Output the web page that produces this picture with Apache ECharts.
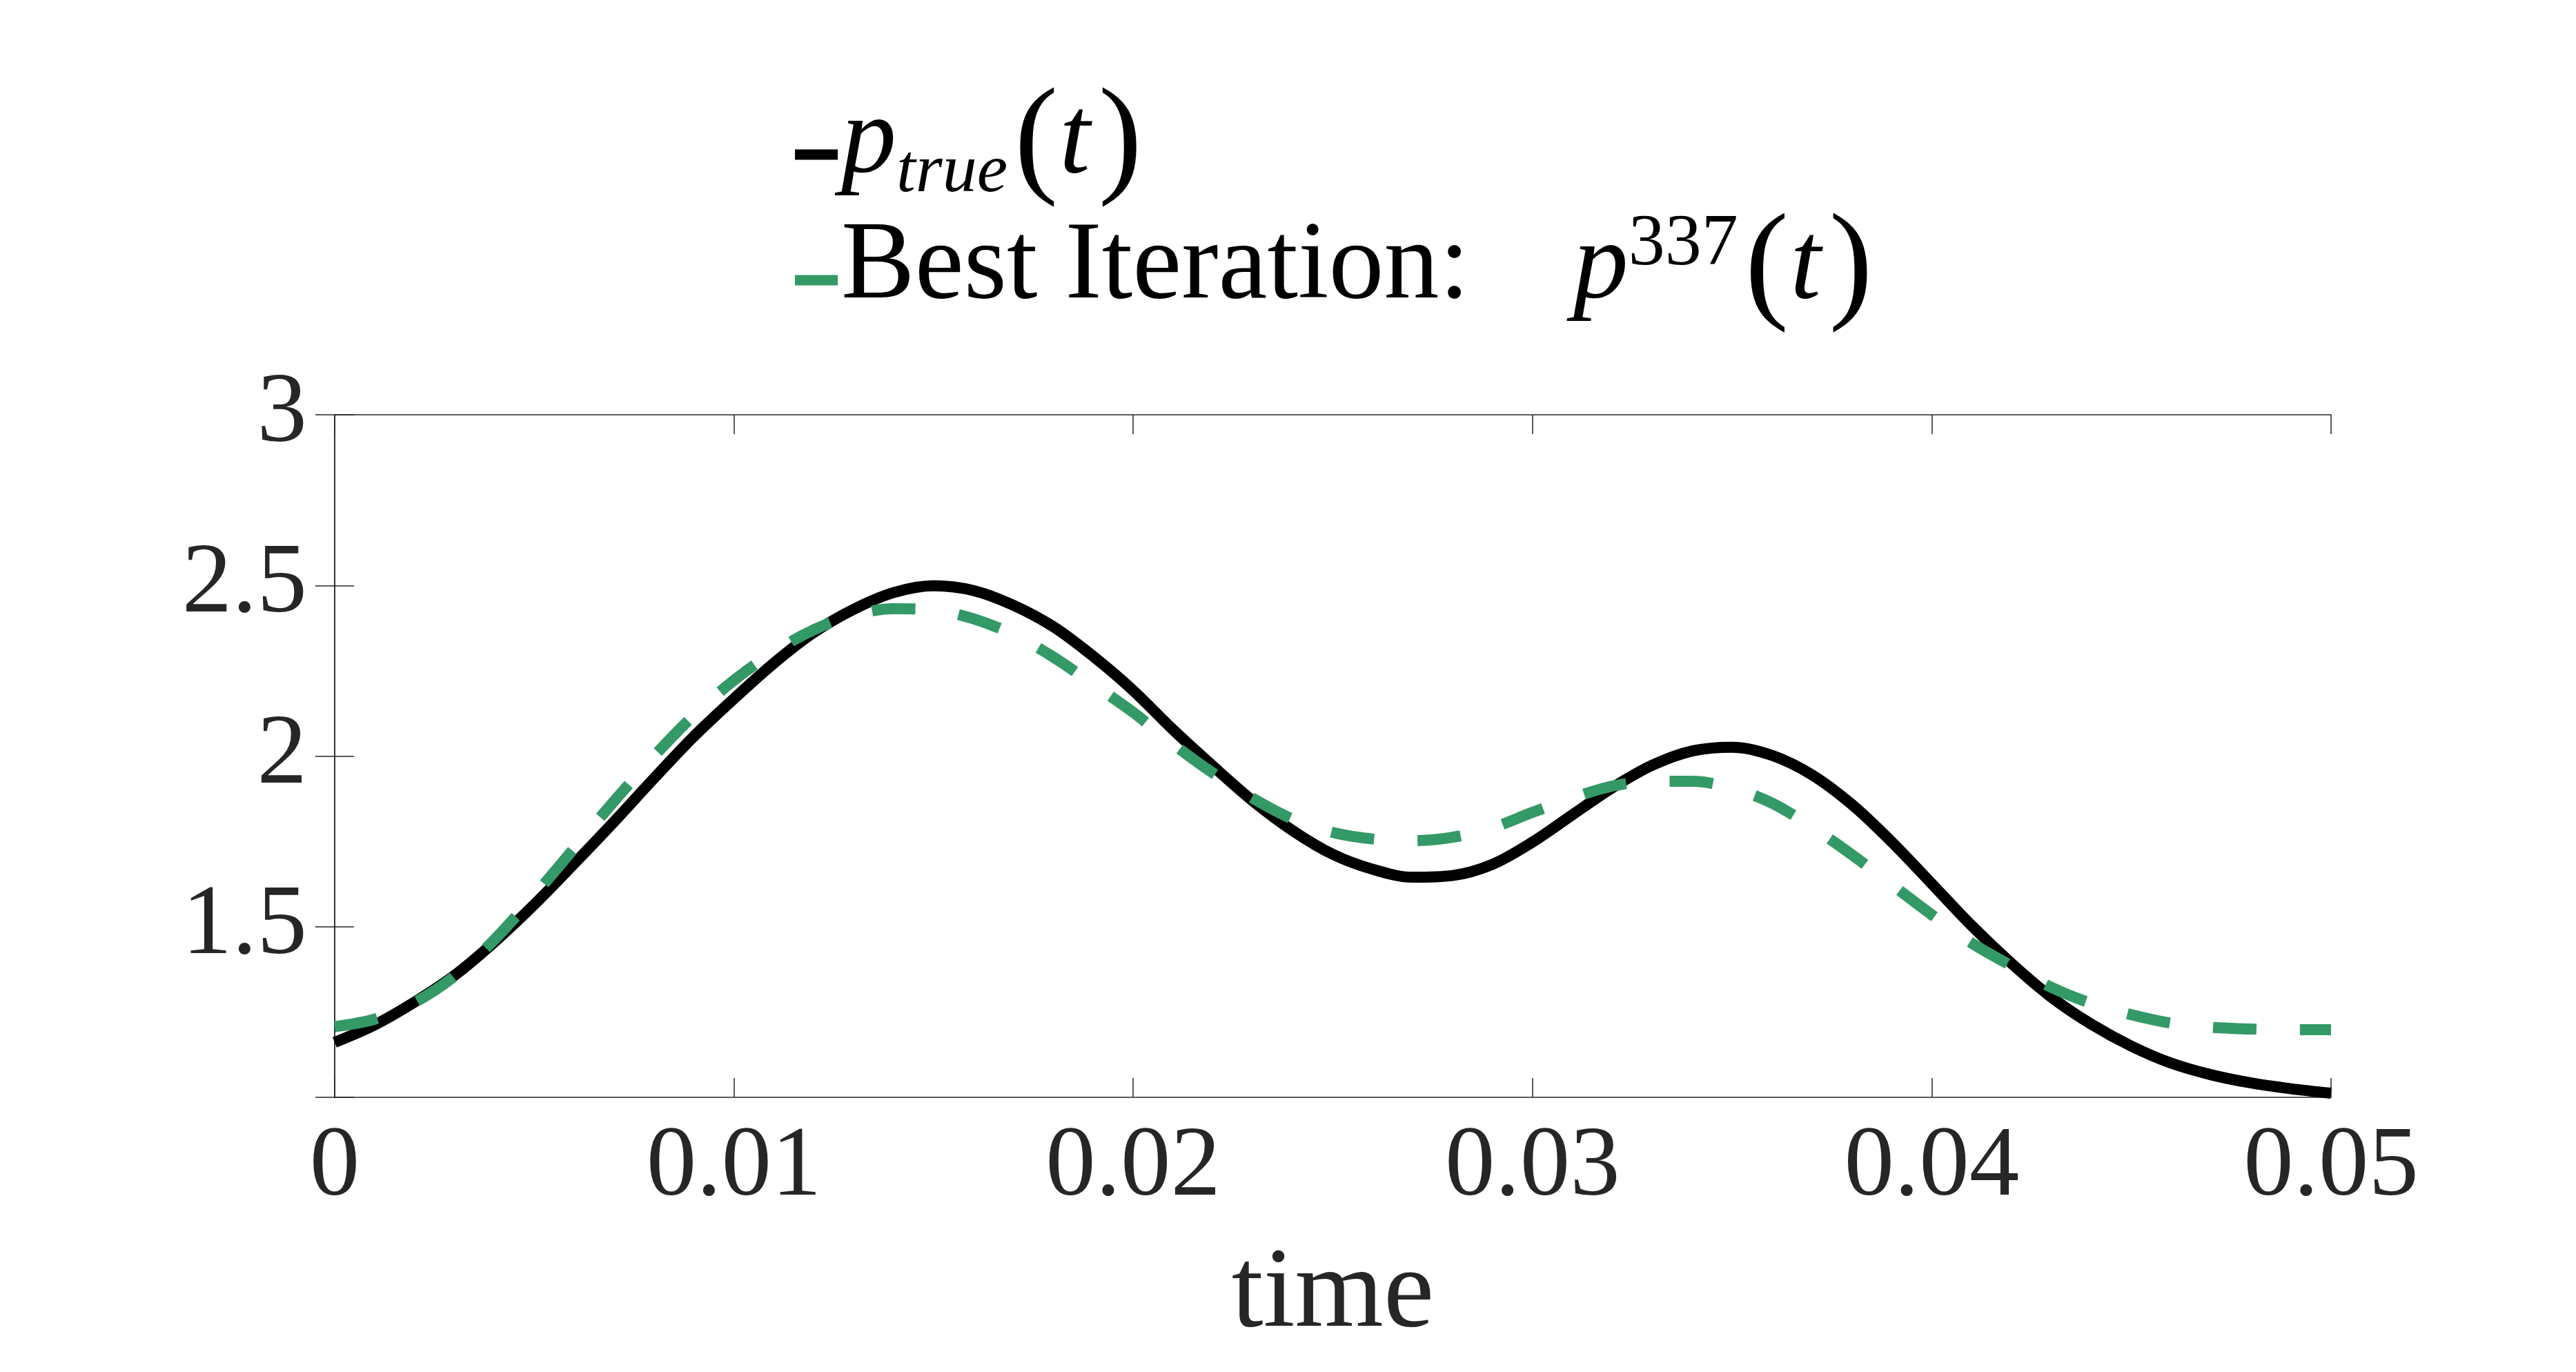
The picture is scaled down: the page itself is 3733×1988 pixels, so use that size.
<!DOCTYPE html>
<html>
<head>
<meta charset="utf-8">
<title>p true vs best iteration</title>
<script src="https://cdn.jsdelivr.net/npm/echarts@6/dist/echarts.min.js"></script>
<style>
  html, body { margin: 0; padding: 0; background: #fff; }
  #chart { width: 3733px; height: 1988px; }
</style>
</head>
<body>
<div id="chart"></div>
<script>
// time samples (s)
const times = [
  0.000, 0.001, 0.002, 0.003, 0.004, 0.005, 0.006, 0.007, 0.008, 0.009,
  0.010, 0.011, 0.012, 0.013, 0.014, 0.015, 0.016, 0.017, 0.018, 0.019,
  0.020, 0.021, 0.022, 0.023, 0.024, 0.025, 0.026, 0.027, 0.028, 0.029,
  0.030, 0.031, 0.032, 0.033, 0.034, 0.035, 0.036, 0.037, 0.038, 0.039,
  0.040, 0.041, 0.042, 0.043, 0.044, 0.045, 0.046, 0.047, 0.048, 0.049,
  0.050
];

// true pressure p_true(t)
const pTrue = [
  1.161, 1.212, 1.279, 1.357, 1.455, 1.565, 1.685, 1.808, 1.935, 2.058,
  2.168, 2.272, 2.362, 2.430, 2.479, 2.499, 2.485, 2.442, 2.379, 2.292,
  2.192, 2.077, 1.970, 1.868, 1.781, 1.712, 1.668, 1.645, 1.650, 1.683,
  1.748, 1.828, 1.907, 1.973, 2.015, 2.026, 2.002, 1.945, 1.858, 1.748,
  1.626, 1.503, 1.392, 1.293, 1.214, 1.150, 1.100, 1.066, 1.042, 1.025,
  1.012
];

// best iteration p^337(t)
const pBest = [
  1.207, 1.229, 1.278, 1.355, 1.462, 1.592, 1.730, 1.868, 2.000, 2.120,
  2.222, 2.305, 2.370, 2.413, 2.432, 2.428, 2.402, 2.356, 2.290, 2.210,
  2.128, 2.035, 1.950, 1.876, 1.815, 1.776, 1.757, 1.752, 1.762, 1.790,
  1.835, 1.877, 1.912, 1.926, 1.926, 1.906, 1.862, 1.792, 1.711, 1.623,
  1.535, 1.452, 1.385, 1.322, 1.275, 1.242, 1.217, 1.205, 1.200, 1.198,
  1.198
];

const xTickLabels = ['0', '0.01', '0.02', '0.03', '0.04', '0.05'];
const yTickLabels = ['', '1.5', '2', '2.5', '3'];

const serif = '"Liberation Serif", "DejaVu Serif", serif';
const axisColor = '#262626';
const green = '#339966';

const legendRich = {
  m: { fontFamily: serif, fontSize: 160, lineHeight: 160, color: '#000', padding: [0, 0, 34, 0] },
  i: { fontFamily: serif, fontSize: 160, lineHeight: 160, color: '#000', fontStyle: 'italic', padding: [0, 0, 34, 0] },
  ip: { fontFamily: serif, fontSize: 160, lineHeight: 160, color: '#000', fontStyle: 'italic', padding: [0, 0, 34, 150] },
  lp: { fontFamily: serif, fontSize: 190, lineHeight: 190, color: '#000', padding: [0, 2, 30, 10] },
  rp: { fontFamily: serif, fontSize: 190, lineHeight: 190, color: '#000', padding: [0, 0, 30, 12] },
  sub: { fontFamily: serif, fontSize: 100, lineHeight: 100, color: '#000', fontStyle: 'italic', padding: [54, 0, 0, 0] },
  sup: { fontFamily: serif, fontSize: 106, lineHeight: 106, color: '#000', padding: [0, 0, 102, 0] }
};

const legendText = {
  pTrue: '{i|p}{sub|true}{lp|(}{i|t}{rp|)}',
  best: '{m|Best Iteration:}{ip|p}{sup|337}{lp|(}{i|t}{rp|)}'
};

function makeLegend(name, color, top) {
  return {
    data: [{ name: name, icon: 'rect', itemStyle: { color: color, borderWidth: 0 } }],
    orient: 'vertical',
    left: 1152,
    top: top,
    padding: 0,
    itemWidth: 62,
    itemHeight: 15,
    selectedMode: false,
    formatter: (n) => legendText[n],
    textStyle: { rich: legendRich }
  };
}

const chart = echarts.init(document.getElementById('chart'));

chart.setOption({
  animation: false,
  backgroundColor: '#fff',
  legend: [
    makeLegend('pTrue', '#000', 114),
    makeLegend('best', green, 296)
  ],
  grid: {
    left: 485,
    right: 355,
    top: 601,
    bottom: 398,
    containLabel: false,
    outerBoundsMode: 'none'
  },
  xAxis: [
    {
      type: 'value',
      min: 0,
      max: 0.05,
      interval: 0.01,
      name: 'time',
      nameLocation: 'middle',
      nameGap: 205,
      nameTextStyle: { fontFamily: serif, fontSize: 165, color: axisColor },
      axisLine: { show: true, lineStyle: { color: axisColor, width: 1.5 } },
      axisTick: { show: true, inside: true, length: 28, lineStyle: { color: axisColor, width: 1.5 } },
      axisLabel: {
        margin: 30,
        fontFamily: serif,
        fontSize: 145,
        color: axisColor,
        formatter: (v, i) => xTickLabels[i]
      },
      splitLine: { show: false }
    },
    {
      type: 'value',
      position: 'top',
      min: 0,
      max: 0.05,
      interval: 0.01,
      axisLine: { show: true, lineStyle: { color: axisColor, width: 1.5 } },
      axisTick: { show: true, inside: true, length: 28, lineStyle: { color: axisColor, width: 1.5 } },
      axisLabel: { show: false },
      splitLine: { show: false }
    }
  ],
  yAxis: [
    {
      type: 'value',
      min: 1,
      max: 3,
      interval: 0.5,
      axisLine: { show: true, lineStyle: { color: axisColor, width: 1.5 } },
      axisTick: { show: true, inside: true, length: 28, lineStyle: { color: axisColor, width: 1.5 } },
      axisLabel: {
        margin: 40,
        fontFamily: serif,
        fontSize: 145,
        color: axisColor,
        formatter: (v, i) => yTickLabels[i]
      },
      splitLine: { show: false }
    },
    {
      type: 'value',
      position: 'right',
      min: 1,
      max: 3,
      interval: 0.5,
      axisLine: { show: true, lineStyle: { color: axisColor, width: 1.5 } },
      axisTick: { show: true, inside: true, length: 28, lineStyle: { color: axisColor, width: 1.5 } },
      axisLabel: { show: false },
      splitLine: { show: false }
    }
  ],
  series: [
    {
      name: 'pTrue',
      type: 'line',
      data: times.map((t, k) => [t, pTrue[k]]),
      showSymbol: false,
      smooth: 0.33,
      color: '#000',
      lineStyle: { color: '#000', width: 16 },
      z: 2
    },
    {
      name: 'best',
      type: 'line',
      data: times.map((t, k) => [t, pBest[k]]),
      showSymbol: false,
      smooth: 0.33,
      color: green,
      lineStyle: { color: green, width: 16, type: [63, 63], cap: 'butt' },
      z: 3
    }
  ]
});

window.addEventListener('resize', () => chart.resize());
</script>
</body>
</html>
